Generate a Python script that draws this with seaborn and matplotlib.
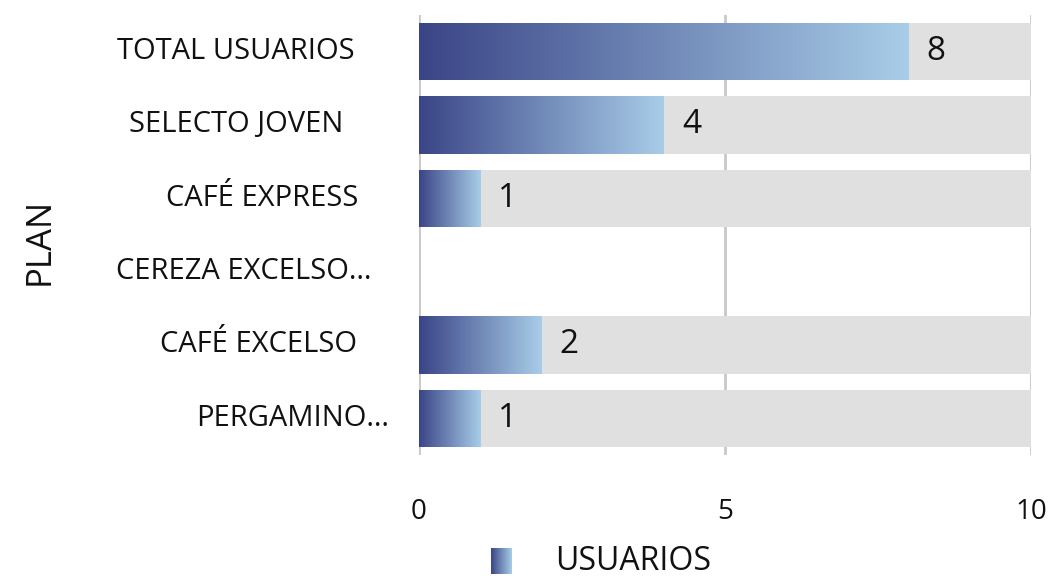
import numpy as np
import pandas as pd
import matplotlib
matplotlib.use("Agg")
import matplotlib.pyplot as plt
import matplotlib.transforms as mtransforms
from matplotlib.colors import LinearSegmentedColormap
import seaborn as sns

# ---- data ----
plans = ["TOTAL USUARIOS", "SELECTO JOVEN", "CAFÉ EXPRESS", "CEREZA EXCELSO…", "CAFÉ EXCELSO", "PERGAMINO…"]
usuarios = [8, 4, 1, 0, 2, 1]
axis_max = 10
x_ticks = [0, 5, 10]
series_name = "USUARIOS"
y_title = "PLAN"

# ---- style ----
sns.set_theme(style="white")
plt.rcParams["font.family"] = ["Open Sans", "DejaVu Sans"]
DARK = "#3a4587"
LIGHT = "#a8cde8"
GREY = "#e0e0e0"
cmap = LinearSegmentedColormap.from_list("grad", [DARK, LIGHT])

df = pd.DataFrame({"plan": plans, "usuarios": usuarios})
df["fondo"] = [axis_max if v > 0 else 0 for v in usuarios]

W, H = 1059, 581
fig = plt.figure(figsize=(W / 100, H / 100), dpi=100)
ax = fig.add_axes([419 / W, 1 - 455 / H, (1031 - 419) / W, (455 - 15) / H])

bar_w = 0.78
sns.barplot(data=df, y="plan", x="fondo", color=GREY, width=bar_w, ax=ax,
            orient="h", saturation=1, zorder=2)
n_bg = len(ax.patches)
sns.barplot(data=df, y="plan", x="usuarios", color=DARK, width=bar_w, ax=ax,
            orient="h", saturation=1, zorder=3)
val_patches = ax.patches[n_bg:]

grad = np.linspace(0, 1, 256).reshape(1, -1)
for p, v in zip(val_patches, usuarios):
    p.set_edgecolor("none")
    p.set_linewidth(0)
    if v <= 0:
        p.set_visible(False)
        continue
    x0, y0 = p.get_x(), p.get_y()
    w, h = p.get_width(), p.get_height()
    p.set_facecolor("none")
    im = ax.imshow(grad, cmap=cmap, aspect="auto", extent=(x0, x0 + w, y0 + h, y0),
                   zorder=4, interpolation="bilinear")
    im.set_clip_path(p)
for p in ax.patches[:n_bg]:
    p.set_edgecolor("none")
    p.set_linewidth(0)
    if p.get_width() <= 0:
        p.set_visible(False)

# value labels
for i, v in enumerate(usuarios):
    if v <= 0:
        continue
    off = mtransforms.offset_copy(ax.transData, fig=fig, x=13, y=0, units="points")
    ax.text(v, i, str(v), transform=off, ha="left", va="center",
            fontsize=24, color="#111111", zorder=6)

ax.set_xlim(0, axis_max)
ax.set_ylim(len(plans) - 0.5, -0.5)
ax.set_xticks(x_ticks)
ax.set_xticklabels([str(t) for t in x_ticks])
ax.tick_params(axis="x", length=0, pad=31, labelsize=20, labelcolor="#111111")
ax.set_yticks([])
ax.set_xlabel("")
ax.set_ylabel("")
for s in ax.spines.values():
    s.set_visible(False)
ax.set_axisbelow(True)
ax.grid(axis="x", color="#c8c8c8", linewidth=2.0, zorder=0)
for gl in ax.get_xgridlines():
    gl.set_zorder(0.5)

# category labels (centered like the reference)
label_centers = [236, 236, 262, 244, 258, 293]
ytr = mtransforms.blended_transform_factory(fig.transFigure, ax.transData)
for i, (lab, cx) in enumerate(zip(plans, label_centers)):
    ax.text(cx / W, i, lab, transform=ytr, ha="center", va="center",
            fontsize=21, color="#111111")

fig.text(40 / W, 1 - 241 / H, y_title, rotation=90, ha="center", va="center",
         fontsize=25, color="#111111")

# legend
sw = fig.add_axes([491 / W, 1 - 574 / H, 21 / W, 26 / H])
sw.imshow(grad, cmap=cmap, aspect="auto")
sw.axis("off")
fig.text(555 / W, 1 - 561 / H, series_name, ha="left", va="center",
         fontsize=23, color="#111111")

fig.savefig("out.png", dpi=100)
